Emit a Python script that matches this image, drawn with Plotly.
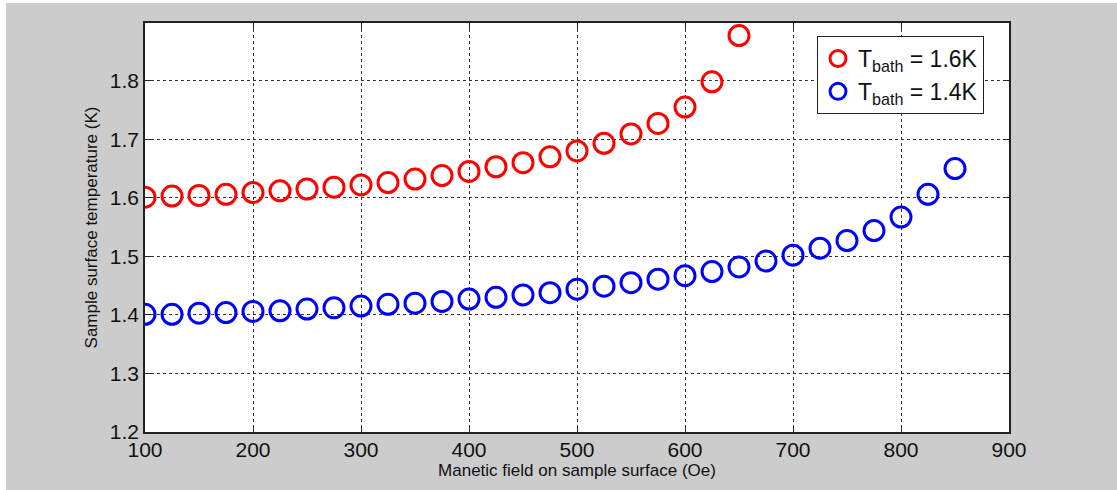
import plotly.graph_objects as go

field_16 = [100, 125, 150, 175, 200, 225, 250, 275, 300, 325, 350, 375, 400,
            425, 450, 475, 500, 525, 550, 575, 600, 625, 650]
temp_16 = [1.601, 1.603, 1.604, 1.606, 1.609, 1.612, 1.615, 1.618, 1.622, 1.626,
           1.632, 1.638, 1.645, 1.653, 1.660, 1.670, 1.680, 1.693, 1.709, 1.727,
           1.755, 1.798, 1.877]

field_14 = [100, 125, 150, 175, 200, 225, 250, 275, 300, 325, 350, 375, 400,
            425, 450, 475, 500, 525, 550, 575, 600, 625, 650, 675, 700, 725,
            750, 775, 800, 825, 850]
temp_14 = [1.401, 1.401, 1.403, 1.404, 1.406, 1.407, 1.410, 1.412, 1.415, 1.418,
           1.420, 1.423, 1.427, 1.430, 1.434, 1.438, 1.444, 1.449, 1.455, 1.461,
           1.467, 1.474, 1.482, 1.492, 1.502, 1.514, 1.527, 1.544, 1.567, 1.606,
           1.650]

x_ticks = [100, 200, 300, 400, 500, 600, 700, 800, 900]
y_ticks = [1.2, 1.3, 1.4, 1.5, 1.6, 1.7, 1.8]
y_tick_text = ["1.2", "1.3", "1.4", "1.5", "1.6", "1.7", "1.8"]

FONT = "Liberation Sans, Arial, sans-serif"

fig = go.Figure()
fig.add_trace(go.Scatter(
    x=field_16, y=temp_16, mode="markers",
    name="T<sub>bath</sub> = 1.6K",
    marker=dict(symbol="circle-open", size=20, color="#ff0000",
                line=dict(width=3, color="#ff0000")),
))
fig.add_trace(go.Scatter(
    x=field_14, y=temp_14, mode="markers",
    name="T<sub>bath</sub> = 1.4K",
    marker=dict(symbol="circle-open", size=20, color="#0000ff",
                line=dict(width=3, color="#0000ff")),
))

axis_common = dict(
    showline=True, linecolor="#222222", linewidth=1.5, mirror="ticks",
    ticks="inside", ticklen=6, tickcolor="#222222", tickwidth=1,
    showgrid=True, gridcolor="#333333", gridwidth=1, griddash="3px,3px",
    zeroline=False,
    tickfont=dict(family=FONT, size=21, color="#111111"),
)

fig.update_xaxes(
    range=[100, 900], tickvals=x_ticks, ticktext=[str(v) for v in x_ticks],
    ticklabelstandoff=-2,
    title=dict(text="Manetic field on sample surface (Oe)",
               font=dict(family=FONT, size=17, color="#111111"), standoff=0),
    **axis_common,
)
fig.update_yaxes(
    range=[1.2, 1.8985], tickvals=y_ticks, ticktext=y_tick_text,
    title=dict(text="Sample surface temperature (K)",
               font=dict(family=FONT, size=17, color="#111111"), standoff=8),
    **axis_common,
)

W, H = 1117, 490
L, R, T, B = 145, 108, 23, 58
pw, ph = W - L - R, H - T - B

def px_x(p):
    return (p - L) / pw

def px_y(p):
    return (H - B - p) / ph

fig.update_layout(
    width=W, height=H,
    margin=dict(l=L, r=R, t=T, b=B, pad=0),
    paper_bgcolor="#cccccc", plot_bgcolor="#ffffff",
    font=dict(family=FONT, color="#111111"),
    showlegend=True,
    legend=dict(
        x=px_x(817), y=px_y(36), xanchor="left", yanchor="top",
        bgcolor="#ffffff", bordercolor="#222222", borderwidth=1,
        font=dict(family=FONT, size=23, color="#111111"),
        itemsizing="trace", tracegroupgap=0,
    ),
    shapes=[
        dict(type="rect", xref="paper", yref="paper", layer="below",
             x0=px_x(0), x1=px_x(6), y0=px_y(H), y1=px_y(0),
             fillcolor="#ffffff", line=dict(width=0)),
        dict(type="rect", xref="paper", yref="paper", layer="below",
             x0=px_x(0), x1=px_x(W), y0=px_y(3), y1=px_y(0),
             fillcolor="#ffffff", line=dict(width=0)),
    ],
)

fig.write_html(
    "out.html",
    config={"displayModeBar": False},
    post_script="document.body.style.margin='0';document.body.style.padding='0';"
)
